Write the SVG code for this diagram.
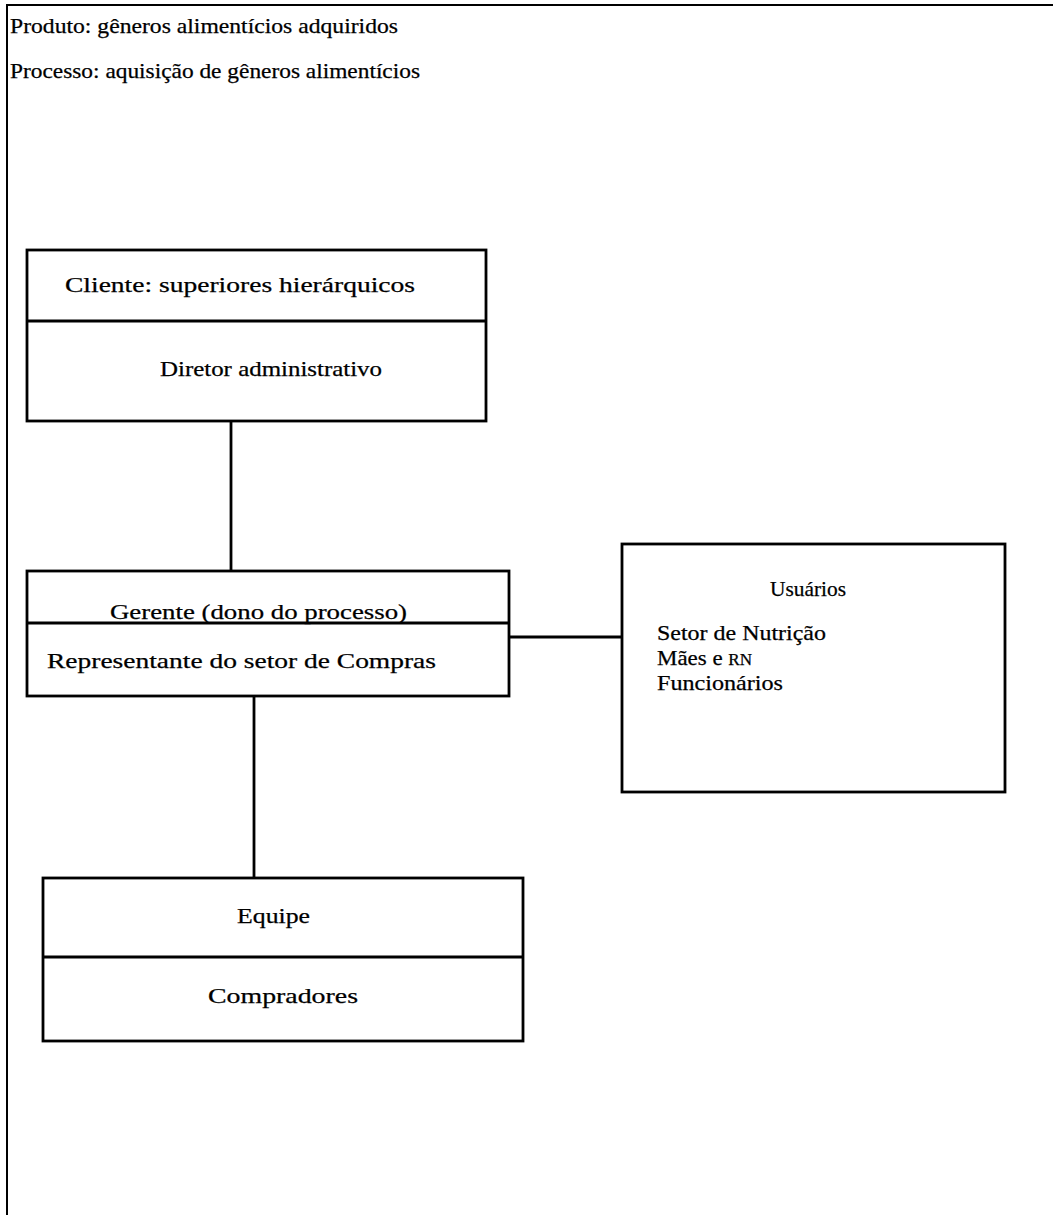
<svg xmlns="http://www.w3.org/2000/svg" width="1053" height="1215" viewBox="0 0 1053 1215">
  <style>
    text { font-family: "Liberation Serif", "DejaVu Serif", serif; font-size: 21.5px; fill: #000; stroke: #000; stroke-width: 0.25; }
    .frame { fill: none; stroke: #000; stroke-width: 2; }
    .box { fill: #fff; stroke: #000; stroke-width: 2.8; }
    .div { stroke: #000; stroke-width: 2.8; }
    .link { stroke: #000; stroke-width: 2.8; fill: none; }
    .sc { font-size: 16px; }
  </style>
  <rect width="1053" height="1215" fill="#fff"/>

  <!-- page frame: top and left rules only -->
  <path class="frame" d="M7 1215 V5 H1053"/>

  <g id="header">
    <text x="10" y="33" textLength="388" lengthAdjust="spacingAndGlyphs">Produto: gêneros alimentícios adquiridos</text>
    <text x="10" y="78" textLength="410" lengthAdjust="spacingAndGlyphs">Processo: aquisição de gêneros alimentícios</text>
  </g>

  <g id="connectors">
    <line class="link" x1="231" y1="421" x2="231" y2="571"/>
    <line class="link" x1="509" y1="637" x2="622" y2="637"/>
    <line class="link" x1="254" y1="696" x2="254" y2="878"/>
  </g>

  <g id="cliente">
    <rect class="box" x="27" y="250" width="459" height="171"/>
    <line class="div" x1="27" y1="321" x2="486" y2="321"/>
    <text x="65" y="292" textLength="350" lengthAdjust="spacingAndGlyphs">Cliente: superiores hierárquicos</text>
    <text x="160" y="376" textLength="222" lengthAdjust="spacingAndGlyphs">Diretor administrativo</text>
  </g>

  <g id="gerente">
    <rect class="box" x="27" y="571" width="482" height="125"/>
    <line class="div" x1="27" y1="623" x2="509" y2="623"/>
    <text x="110" y="619" textLength="297" lengthAdjust="spacingAndGlyphs">Gerente (dono do processo)</text>
    <text x="47" y="668" textLength="389" lengthAdjust="spacingAndGlyphs">Representante do setor de Compras</text>
  </g>

  <g id="usuarios">
    <rect class="box" x="622" y="544" width="383" height="248"/>
    <text x="770" y="596" textLength="76" lengthAdjust="spacingAndGlyphs">Usuários</text>
    <text x="657" y="640" textLength="169" lengthAdjust="spacingAndGlyphs">Setor de Nutrição</text>
    <text x="657" y="665" textLength="95" lengthAdjust="spacingAndGlyphs">Mães e <tspan class="sc">RN</tspan></text>
    <text x="657" y="690" textLength="126" lengthAdjust="spacingAndGlyphs">Funcionários</text>
  </g>

  <g id="equipe">
    <rect class="box" x="43" y="878" width="480" height="163"/>
    <line class="div" x1="43" y1="957" x2="523" y2="957"/>
    <text x="237" y="923" textLength="73" lengthAdjust="spacingAndGlyphs">Equipe</text>
    <text x="208" y="1003" textLength="150" lengthAdjust="spacingAndGlyphs">Compradores</text>
  </g>
</svg>
